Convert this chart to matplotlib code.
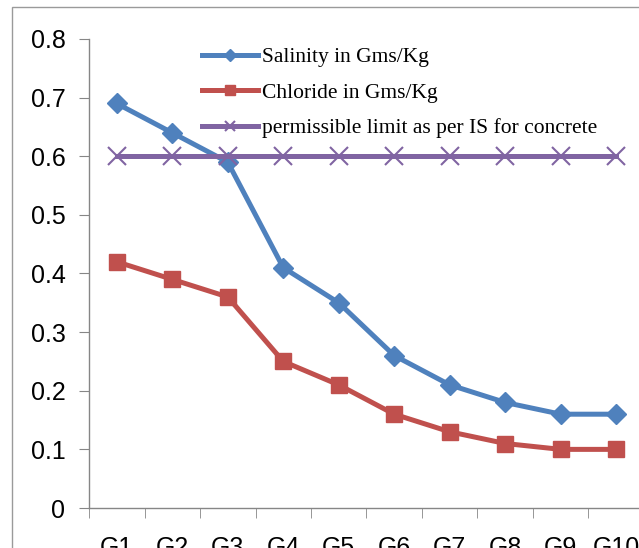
import matplotlib.pyplot as plt
from matplotlib.patches import Rectangle

# Data
groups = ["G1", "G2", "G3", "G4", "G5", "G6", "G7", "G8", "G9", "G10"]
salinity = [0.69, 0.64, 0.59, 0.41, 0.35, 0.26, 0.21, 0.18, 0.16, 0.16]
chloride = [0.42, 0.39, 0.36, 0.25, 0.21, 0.16, 0.13, 0.11, 0.10, 0.10]
limit = [0.6] * len(groups)

W, H = 639, 548
fig = plt.figure(figsize=(W / 100, H / 100), dpi=100)

# Outer chart-area frame (cropped on right and bottom)
frame = Rectangle((12 / W, -0.2), 1.2, (H - 7) / H + 0.2, transform=fig.transFigure,
                  fill=False, edgecolor="#9a9a9a", linewidth=1.0, clip_on=False)
fig.patches.append(frame)

# Axes: y=0 at 508px, y=0.8 at 39px; left spine at 89px, 55.5px per category
ax = fig.add_axes([89 / W, (H - 508) / H, 555 / W, (508 - 39) / H])

x = list(range(1, len(groups) + 1))
ax.plot(x, salinity, color="#4F81BD", lw=3.6, marker="D", ms=10,
        label="Salinity in Gms/Kg")
ax.plot(x, chloride, color="#C0504D", lw=3.6, marker="s", ms=12,
        label="Chloride in Gms/Kg")
ax.plot(x, limit, color="#8064A2", lw=3.6, marker="x", ms=13, mew=1.5,
        label="permissible limit as per IS for concrete")

ax.set_xlim(0.5, 10.5)
ax.set_ylim(0, 0.8)
ax.set_yticks([0, 0.1, 0.2, 0.3, 0.4, 0.5, 0.6, 0.7, 0.8])
ax.set_yticklabels(["0", "0.1", "0.2", "0.3", "0.4", "0.5", "0.6", "0.7", "0.8"])
ax.set_xticks(x)
ax.set_xticklabels(groups)
ax.set_xticks([i + 0.5 for i in range(0, 11)], minor=True)

for s in ["top", "right"]:
    ax.spines[s].set_visible(False)
for s in ["left", "bottom"]:
    ax.spines[s].set_color("#868686")
    ax.spines[s].set_linewidth(1.0)

ax.tick_params(axis="x", which="major", length=0, pad=20,
               labelsize=18, labelfontfamily="Liberation Sans")
ax.tick_params(axis="x", which="minor", length=7, color="#868686", direction="out")
ax.tick_params(axis="y", length=7, color="#868686", direction="out", pad=10,
               labelsize=18, labelfontfamily="Liberation Sans")

leg = ax.legend(loc="upper left", bbox_to_anchor=(202 / W, 1 - 47 / H),
                bbox_transform=fig.transFigure, frameon=False,
                prop={"family": "Liberation Serif", "size": 15.5},
                handlelength=2.6, handletextpad=0.2, labelspacing=0.72,
                markerscale=0.6, borderpad=0, borderaxespad=0)

fig.savefig("out.png", dpi=100)
